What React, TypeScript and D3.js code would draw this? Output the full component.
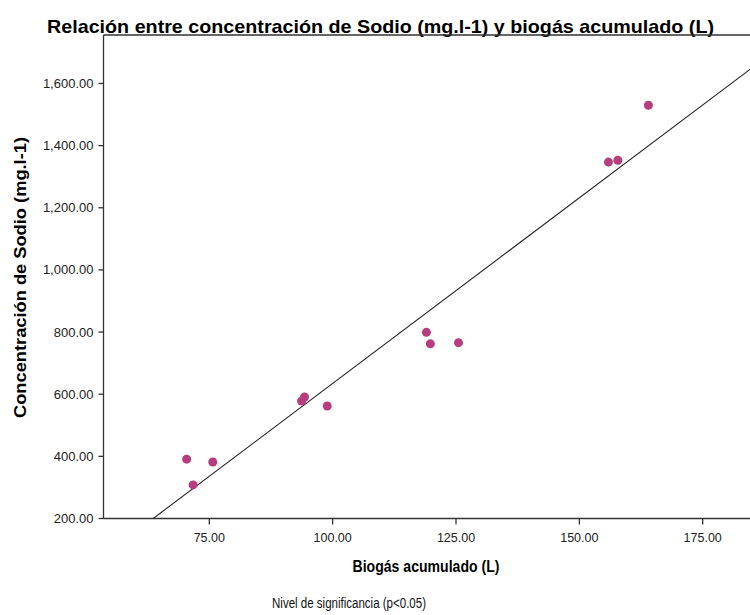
import React from "react";
import * as d3 from "d3";

// Biogás acumulado (L)
const biogas: number[] = [70.4, 71.7, 75.7, 94.3, 93.7, 98.9, 119.0, 119.8, 125.5, 155.9, 157.8, 164.0];
// Concentración de Sodio (mg.l-1)
const sodio: number[] = [391, 308, 382, 591, 578, 562, 799, 762, 766, 1347, 1353, 1530];

const xTicks: number[] = [75, 100, 125, 150, 175];
const yTicks: number[] = [200, 400, 600, 800, 1000, 1200, 1400, 1600];

const xDomain: [number, number] = [53.55, 185.2];
const yDomain: [number, number] = [200, 1756];

const title = "Relación entre concentración de Sodio (mg.l-1) y biogás acumulado (L)";
const xLabel = "Biogás acumulado (L)";
const yLabel = "Concentración de Sodio (mg.l-1)";
const note = "Nivel de significancia (p<0.05)";

const W = 750;
const H = 615;
const left = 103.5;
const right = 753;
const top = 35;
const bottom = 518.5;

const FONT = "'Liberation Sans', Arial, sans-serif";

export default function App() {
  const x = d3.scaleLinear().domain(xDomain).range([left, right]);
  const y = d3.scaleLinear().domain(yDomain).range([bottom, top]);

  // OLS fit
  const mx = d3.mean(biogas) as number;
  const my = d3.mean(sodio) as number;
  let sxy = 0;
  let sxx = 0;
  biogas.forEach((v, i) => {
    sxy += (v - mx) * (sodio[i] - my);
    sxx += (v - mx) * (v - mx);
  });
  const slope = sxy / sxx;
  const intercept = my - slope * mx;
  const fitX = [xDomain[0], xDomain[1]];
  const line = d3
    .line<number>()
    .x((d) => x(d))
    .y((d) => y(intercept + slope * d));

  const fmtY = d3.format(",.2f");
  const fmtX = d3.format(".2f");

  return (
    <svg
      width={W}
      height={H}
      style={{ position: "fixed", left: 0, top: 0, background: "#fff" }}
    >
      <defs>
        <clipPath id="plotClip">
          <rect x={left} y={top} width={right - left} height={bottom - top} />
        </clipPath>
      </defs>
      <rect x={0} y={0} width={W} height={H} fill="#fff" />

      {/* Title */}
      <text
        x={380.5}
        y={33}
        textAnchor="middle"
        fontFamily={FONT}
        fontWeight="bold"
        fontSize={19}
        textLength={667}
        lengthAdjust="spacingAndGlyphs"
        fill="#000"
      >
        {title}
      </text>

      {/* frame */}
      <line x1={left} x2={W + 5} y1={top} y2={top} stroke="#333" strokeWidth={1.3} />
      <line x1={left} x2={left} y1={top} y2={bottom} stroke="#333" strokeWidth={1.3} />
      <line x1={left} x2={W + 5} y1={bottom} y2={bottom} stroke="#333" strokeWidth={1.3} />

      {/* Y ticks */}
      {yTicks.map((t) => (
        <g key={"y" + t}>
          <line x1={left - 5} x2={left} y1={y(t)} y2={y(t)} stroke="#333" strokeWidth={1.3} />
          <text
            x={left - 10}
            y={y(t)}
            dy="0.35em"
            textAnchor="end"
            fontFamily={FONT}
            fontSize={13}
            fill="#222"
          >
            {fmtY(t)}
          </text>
        </g>
      ))}

      {/* X ticks */}
      {xTicks.map((t) => (
        <g key={"x" + t}>
          <line x1={x(t)} x2={x(t)} y1={bottom} y2={bottom + 6} stroke="#333" strokeWidth={1.3} />
          <text
            x={x(t)}
            y={bottom + 19}
            dy="0.35em"
            textAnchor="middle"
            fontFamily={FONT}
            fontSize={12.5}
            fill="#222"
          >
            {fmtX(t)}
          </text>
        </g>
      ))}

      {/* Fit line */}
      <path
        d={line(fitX) || ""}
        fill="none"
        stroke="#222"
        strokeWidth={1.1}
        clipPath="url(#plotClip)"
      />

      {/* Points */}
      {biogas.map((v, i) => (
        <circle key={"p" + i} cx={x(v)} cy={y(sodio[i])} r={4.5} fill="#b83d7d" />
      ))}

      {/* Axis titles */}
      <text
        x={426}
        y={572}
        textAnchor="middle"
        fontFamily={FONT}
        fontWeight="bold"
        fontSize={16.5}
        textLength={147}
        lengthAdjust="spacingAndGlyphs"
        fill="#000"
      >
        {xLabel}
      </text>
      <text
        transform={`translate(26, 277.5) rotate(-90)`}
        textAnchor="middle"
        fontFamily={FONT}
        fontWeight="bold"
        fontSize={16}
        textLength={281}
        lengthAdjust="spacingAndGlyphs"
        fill="#000"
      >
        {yLabel}
      </text>

      {/* Note */}
      <text
        x={272}
        y={608}
        fontFamily={FONT}
        fontSize={14}
        textLength={154}
        lengthAdjust="spacingAndGlyphs"
        fill="#111"
      >
        {note}
      </text>
    </svg>
  );
}
